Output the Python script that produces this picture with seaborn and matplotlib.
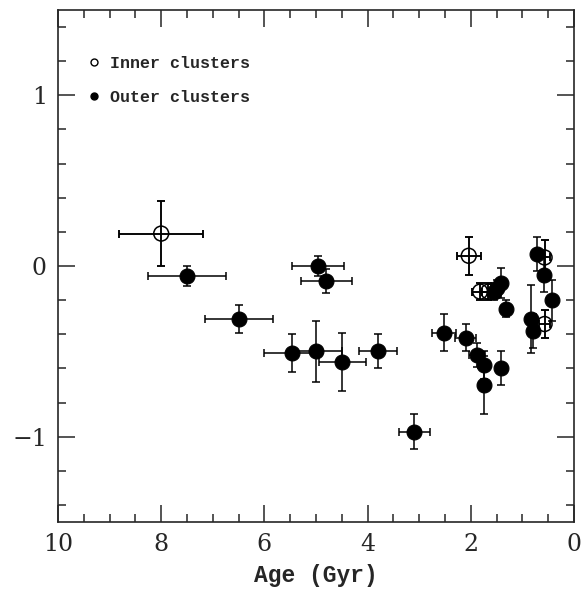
import matplotlib
matplotlib.use("Agg")
import matplotlib.pyplot as plt
from matplotlib.lines import Line2D
from matplotlib.ticker import MultipleLocator
import seaborn as sns
import pandas as pd

# Inner clusters (open symbols)
age_in = [8.0, 2.04, 1.82, 1.66, 0.57, 0.57]
feh_in = [0.19, 0.06, -0.15, -0.15, 0.05, -0.34]
age_err_in = [0.81, 0.23, 0.15, 0.12, 0.10, 0.10]
feh_err_in = [0.19, 0.11, 0.05, 0.05, 0.10, 0.08]

# Outer clusters (filled symbols)
age_out = [7.5, 6.5, 4.96, 4.80, 5.46, 5.0, 4.49, 3.80, 3.10, 2.52, 2.10, 1.88,
           1.74, 1.74, 1.42, 1.55, 1.50, 1.42, 1.32, 0.72, 0.58, 0.43, 0.83, 0.80]
feh_out = [-0.06, -0.31, 0.0, -0.09, -0.51, -0.50, -0.56, -0.50, -0.97, -0.39, -0.42, -0.52,
           -0.58, -0.70, -0.60, -0.15, -0.13, -0.10, -0.25, 0.07, -0.05, -0.20, -0.31, -0.38]
age_err_out = [0.75, 0.66, 0.50, 0.49, 0.54, 0.50, 0.46, 0.37, 0.30, 0.23, 0.20, 0.15,
               0.12, 0.10, 0.10, 0.10, 0.10, 0.08, 0.10, 0.05, 0.05, 0.05, 0.05, 0.05]
feh_err_out = [0.06, 0.08, 0.06, 0.07, 0.11, 0.18, 0.17, 0.10, 0.10, 0.11, 0.08, 0.07,
               0.08, 0.17, 0.10, 0.05, 0.05, 0.09, 0.05, 0.10, 0.10, 0.12, 0.20, 0.10]

legend_labels = ["Inner clusters", "Outer clusters"]
x_label = "Age (Gyr)"

sns.set_style("ticks")
plt.rcParams["font.family"] = ["Liberation Mono", "DejaVu Sans"]

fig = plt.figure(figsize=(5.88, 6.0), dpi=100)
ax = fig.add_axes([58/588, 1 - 522/600, (574-58)/588, (522-10)/600])

df_in = pd.DataFrame({"age": age_in, "feh": feh_in})
df_out = pd.DataFrame({"age": age_out, "feh": feh_out})

ekw = dict(fmt="none", ecolor="black", elinewidth=1.1, capsize=3, capthick=1.1, zorder=2)
ax.errorbar(age_out, feh_out, xerr=age_err_out, yerr=feh_err_out, **ekw)
ax.errorbar(age_in, feh_in, xerr=age_err_in, yerr=feh_err_in, **ekw)

sns.scatterplot(data=df_out, x="age", y="feh", ax=ax, marker="o", s=115,
                color="black", edgecolor="black", linewidth=0.8, zorder=3, legend=False)
sns.scatterplot(data=df_in, x="age", y="feh", ax=ax, marker="o", s=115,
                facecolor="none", edgecolor="black", linewidth=1.1, zorder=1, legend=False)
# crosshair over open symbols
ax.errorbar(age_in, feh_in, xerr=age_err_in, yerr=feh_err_in, **{**ekw, "zorder": 4})

ax.set_xlim(10, 0)
ax.set_ylim(-1.5, 1.5)
ax.xaxis.set_major_locator(MultipleLocator(2))
ax.xaxis.set_minor_locator(MultipleLocator(0.5))
ax.yaxis.set_major_locator(MultipleLocator(1))
ax.yaxis.set_minor_locator(MultipleLocator(0.2))
ax.tick_params(which="both", direction="in", top=True, right=True, width=1.1)
ax.tick_params(which="major", length=12, labelsize=17, pad=8)
ax.tick_params(which="minor", length=6)
for lab in ax.get_xticklabels() + ax.get_yticklabels():
    lab.set_fontfamily("DejaVu Serif")
for s in ax.spines.values():
    s.set_linewidth(1.2)

ax.set_xlabel(x_label, fontsize=16.5, fontweight="bold", labelpad=6)
ax.set_ylabel("")

handles = [
    Line2D([], [], marker="o", linestyle="none", markerfacecolor="none",
           markeredgecolor="black", markersize=5, markeredgewidth=1),
    Line2D([], [], marker="o", linestyle="none", color="black", markersize=5),
]
ax.legend(handles, legend_labels, loc="upper left", bbox_to_anchor=(0.060, 0.911),
          frameon=False, prop={"size": 12, "weight": "bold"}, handletextpad=0.65,
          labelspacing=1.15, handlelength=0.6, borderaxespad=0, borderpad=0)

fig.savefig("out.png", dpi=100)
